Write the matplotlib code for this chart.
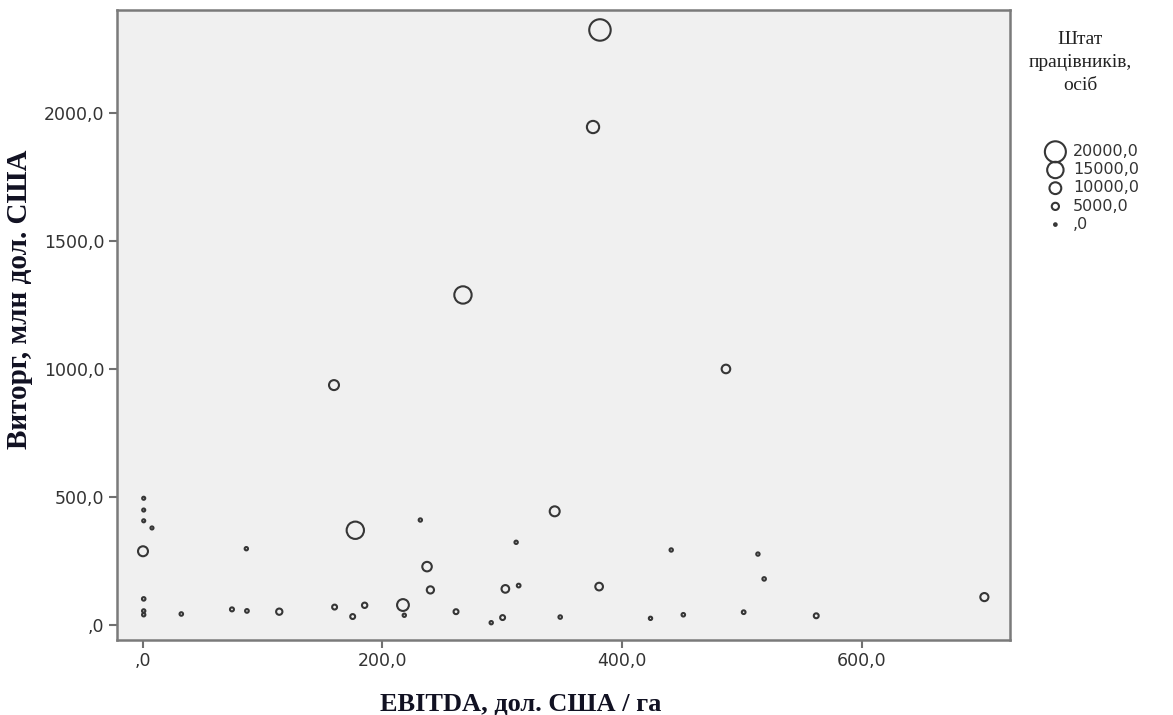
import matplotlib.pyplot as plt
from matplotlib.ticker import FuncFormatter

# EBITDA, дол. США / га
ebitda = [381.6, 375.8, 267.2, 159.5, 486.8, 177.3, 343.8, 0.0, 237.2, 240.0,
          302.6, 380.9, 217.1, 113.8, 702.6,
          160.0, 175.1, 185.1, 261.4, 300.3, 562.2,
          0.6, 0.6, 0.6, 7.5, 86.3, 231.6, 311.6, 313.7, 0.6, 0.6, 0.6,
          32.0, 74.3, 86.8, 218.2, 290.8, 348.4, 423.8, 441.1, 451.2,
          513.5, 518.7, 501.6]
# Виторг, млн дол. США
revenue = [2324, 1945, 1289, 937, 1000, 370, 444, 288, 228, 137,
           141, 150, 78, 52, 109,
           70, 33, 77, 52, 29, 36,
           495, 449, 407, 379, 298, 410, 323, 154, 102, 55, 40,
           43, 61, 55, 38, 9, 31, 26, 293, 40,
           277, 180, 50]
# Штат працівників, осіб
staff = [20500, 10500, 16000, 8000, 6500, 16000, 8000, 8000, 7500, 5000,
         5500, 5500, 10000, 4000, 6000,
         2500, 2500, 3000, 2500, 2500, 2500,
         500, 500, 500, 500, 800, 800, 800, 1200, 1000, 800, 800,
         1000, 1500, 1200, 800, 800, 1000, 800, 800, 1000,
         800, 1000, 1200]

legend_values = [20000, 15000, 10000, 5000, 0]
legend_labels = ["20000,0", "15000,0", "10000,0", "5000,0", ",0"]

ring = "#363636"


def bubble(n):
    d = (0.00092 * n + 2.6) * 0.72  # діаметр у пунктах
    return d * d


def fmt(v, pos):
    if v == 0:
        return ",0"
    return f"{v:.1f}".replace(".", ",")


fig = plt.figure(figsize=(11.73, 7.15), dpi=100)
ax = fig.add_axes([117 / 1173, 1 - 640 / 715, (1010 - 117) / 1173, (640 - 10) / 715])
ax.set_facecolor("#f0f0f0")

ax.scatter(ebitda, revenue, s=[bubble(n) for n in staff], facecolors="none",
           edgecolors=ring, linewidths=1.5, zorder=3)

ax.set_xlim(-21.7, 724)
ax.set_ylim(-58.6, 2402)
ax.set_xticks([0, 200, 400, 600])
ax.set_yticks([0, 500, 1000, 1500, 2000])
ax.xaxis.set_major_formatter(FuncFormatter(fmt))
ax.yaxis.set_major_formatter(FuncFormatter(fmt))
ax.tick_params(length=6, width=1.5, color="#707070", labelsize=12.5,
               labelcolor="#333333", pad=3)
for sp in ax.spines.values():
    sp.set_color("#7a7a7a")
    sp.set_linewidth(1.8)

ax.set_xlabel("EBITDA, дол. США / га", family="Liberation Serif", fontweight="bold",
              fontsize=19, color="#111122")
ax.set_ylabel("Виторг, млн дол. США", family="Liberation Serif", fontweight="bold",
              fontsize=21, color="#111122")
ax.xaxis.set_label_coords(0.452, -0.083)
ax.yaxis.set_label_coords(-0.094, 0.541)

fig.text(1080 / 1173, 1 - 31 / 715, "Штат\nпрацівників,\nосіб", ha="center",
         va="top", multialignment="center", family="Liberation Serif",
         fontsize=14, linespacing=1.45, color="#222222")

handles = [ax.scatter([], [], s=bubble(v), facecolors="none", edgecolors=ring,
                      linewidths=1.5) for v in legend_values]
leg = fig.legend(handles, legend_labels, loc="upper left",
                 bbox_to_anchor=(1037 / 1173, 1 - 136 / 715), frameon=False,
                 fontsize=11.5, labelspacing=0.2, handletextpad=0.45,
                 borderpad=0.0, handlelength=1.3)
for t in leg.get_texts():
    t.set_color("#333333")

plt.savefig("out.png", dpi=100)
plt.close()
